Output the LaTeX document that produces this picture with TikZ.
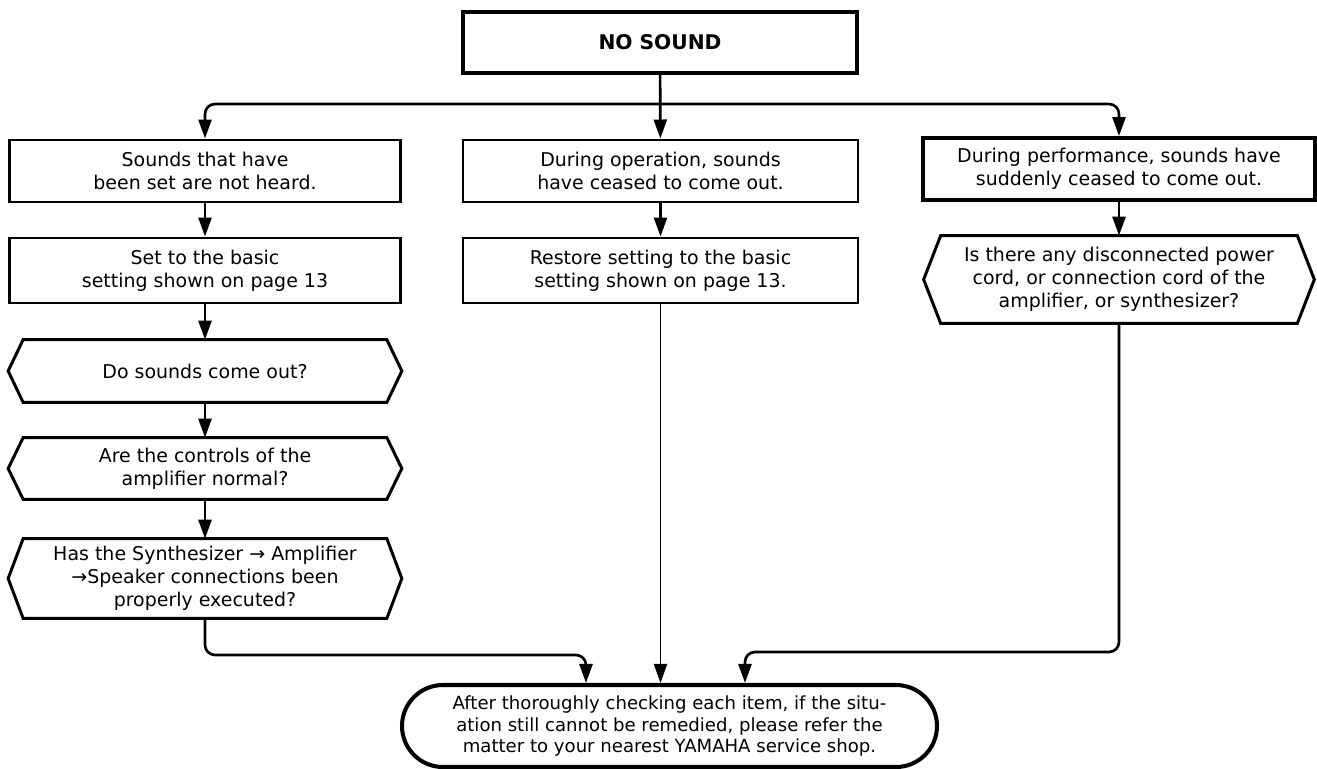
\documentclass[tikz,border=0pt]{standalone}
\usepackage{fontspec}
\setmainfont{DejaVu Sans}
\usetikzlibrary{arrows.meta,shapes.misc}

\tikzset{
  box/.style={draw, line width=1.7pt, rectangle, inner sep=0pt, align=center,
    minimum width=7.82cm, minimum height=1.24cm, font=\fontsize{10.8}{13}\selectfont},
  hexbox/.style={rectangle, inner sep=0pt, align=center,
    minimum width=7.86cm, minimum height=1.24cm, font=\fontsize{10.8}{13}\selectfont},
  hexline/.style={line width=1.7pt, line join=miter},
  flow/.style={line width=1.5pt, -{Triangle[length=0.38cm,width=0.26cm]}},
}

\begin{document}
\begin{tikzpicture}
  \useasboundingbox (0,0) rectangle (26.34,-15.38);

  % Start
  \node[box, line width=2.3pt, minimum width=7.88cm, minimum height=1.22cm,
    font=\fontsize{11.5}{13}\selectfont\bfseries] (nosound) at (13.2,-0.85) {NO SOUND};

  % Left column
  \node[box] (set) at (4.1,-3.42) {Sounds that have\\been set are not heard.};
  \node[box, minimum height=1.3cm] (basic) at (4.1,-5.41) {Set to the basic\\setting shown on page 13};
  \node[hexbox] (comeout) at (4.1,-7.42) {Do sounds come out?};
  \node[hexbox, minimum height=1.22cm] (controls) at (4.1,-9.37) {Are the controls of the\\amplifier normal?};
  \node[hexbox, minimum height=1.58cm] (connect) at (4.1,-11.57)
    {Has the Synthesizer → Amplifier\\→Speaker connections been\\properly executed?};

  % Middle column
  \node[box, minimum width=7.9cm] (operation) at (13.21,-3.42) {During operation, sounds\\have ceased to come out.};
  \node[box, minimum width=7.9cm, minimum height=1.3cm] (restore) at (13.21,-5.41)
    {Restore setting to the basic\\setting shown on page 13.};

  % Right column
  \node[box, line width=2.2pt, minimum width=7.84cm] (perform) at (22.38,-3.38)
    {During performance, sounds have\\suddenly ceased to come out.};
  \node[hexbox, minimum width=7.8cm, minimum height=1.74cm] (cord) at (22.38,-5.59)
    {Is there any disconnected power\\cord, or connection cord of the\\amplifier, or synthesizer?};

  % Hexagon outlines
  \foreach \h/\d in {comeout/0.3, controls/0.3, connect/0.3, cord/0.34}
    \draw[hexline] (\h.west) -- ([xshift=\d cm]\h.north west) -- ([xshift=-\d cm]\h.north east)
      -- (\h.east) -- ([xshift=-\d cm]\h.south east) -- ([xshift=\d cm]\h.south west) -- cycle;

  % End
  \node[rounded rectangle, draw, line width=2.3pt, inner sep=0pt, align=center,
    minimum width=10.7cm, minimum height=1.64cm, font=\fontsize{10.3}{12.5}\selectfont] (service) at (13.39,-14.52)
    {After thoroughly checking each item, if the situ-\\ation still cannot be remedied, please refer the\\matter to your nearest YAMAHA service shop.};

  % Connectors
  \coordinate (split) at (13.2,-2.08);
  \coordinate (joinL) at (11.72,-13.1);
  \coordinate (joinR) at (14.9,-13.04);

  \draw[flow] (nosound) -- (operation);
  \draw[flow, rounded corners=0.2cm] (split) -| (set.north);
  \draw[flow, rounded corners=0.2cm] (split) -| (perform.north);

  \draw[flow] (set) -- (basic);
  \draw[flow] (basic) -- (comeout);
  \draw[flow] (comeout) -- (controls);
  \draw[flow] (controls) -- (connect);
  \draw[flow] (operation) -- (restore);
  \draw[flow] (perform) -- (cord);

  \draw[flow, line width=1.1pt] (restore.south) -- (restore.south |- service.north);
  \draw[flow, rounded corners=0.2cm] (connect.south) |- (joinL) -- (joinL |- service.north);
  \draw[flow, rounded corners=0.2cm] (cord.south) |- (joinR) -- (joinR |- service.north);
\end{tikzpicture}
\end{document}
